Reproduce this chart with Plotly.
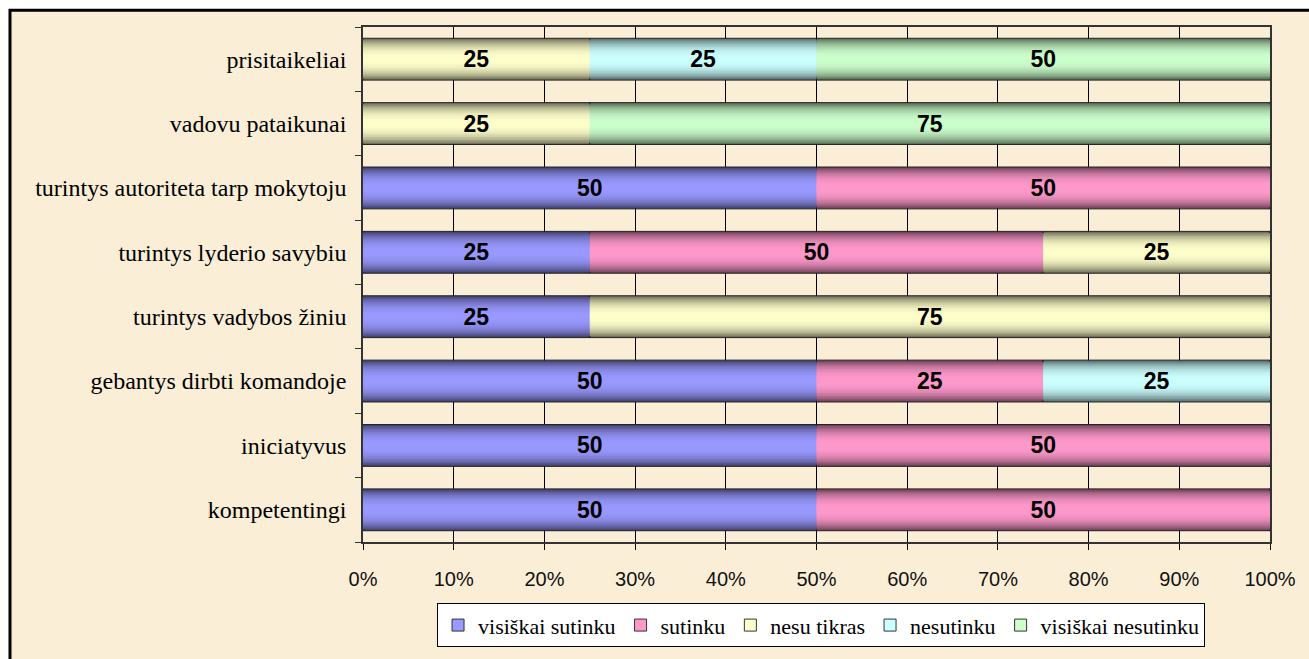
import plotly.graph_objects as go

categories = [
    "kompetentingi",
    "iniciatyvus",
    "gebantys dirbti komandoje",
    "turintys vadybos žiniu",
    "turintys lyderio savybiu",
    "turintys autoriteta tarp mokytoju",
    "vadovu pataikunai",
    "prisitaikeliai",
]
series_names = ["visiškai sutinku", "sutinku", "nesu tikras", "nesutinku", "visiškai nesutinku"]
visiskai_sutinku = [50, 50, 50, 25, 25, 50, 0, 0]
sutinku = [50, 50, 25, 0, 50, 50, 0, 0]
nesu_tikras = [0, 0, 0, 75, 25, 0, 25, 25]
nesutinku = [0, 0, 25, 0, 0, 0, 0, 25]
visiskai_nesutinku = [0, 0, 0, 0, 0, 0, 75, 50]
series_values = [visiskai_sutinku, sutinku, nesu_tikras, nesutinku, visiskai_nesutinku]
series_colors = ["#9999FF", "#FF99CC", "#FFFFCC", "#CCFFFF", "#CCFFCC"]
x_ticks = list(range(0, 101, 10))
x_tick_labels = [f"{v}%" for v in x_ticks]

PARCH = "#FBEED6"
BAR_W = 0.65
N_LAYERS = 14


def hex_rgb(h):
    h = h.lstrip("#")
    return [int(h[i:i + 2], 16) for i in (0, 2, 4)]


def shade(h, f):
    r, g, b = hex_rgb(h)
    return f"rgb({int(r * f)},{int(g * f)},{int(b * f)})"


# cumulative bases
bases = []
acc = [0] * len(categories)
for vals in series_values:
    bases.append(list(acc))
    acc = [a + v for a, v in zip(acc, vals)]

fig = go.Figure()

# gradient layers (cylinder-like shading)
for i in range(N_LAYERS):
    d = 1 - i / N_LAYERS  # relative half-width
    w = BAR_W * d
    f = 1 - 0.55 * d ** 2.5
    for s, (vals, col) in enumerate(zip(series_values, series_colors)):
        fig.add_trace(go.Bar(
            y=categories, x=vals, base=bases[s], orientation="h",
            width=w,
            marker=dict(color=shade(col, f),
                        line=dict(color="#222222", width=1 if i == 0 else 0)),
            showlegend=False, hoverinfo="skip",
        ))

# text overlay
for s, vals in enumerate(series_values):
    fig.add_trace(go.Bar(
        y=categories, x=vals, base=bases[s], orientation="h",
        width=BAR_W,
        marker=dict(color="rgba(0,0,0,0)", line=dict(width=0)),
        text=[str(v) if v else "" for v in vals],
        textposition="inside", insidetextanchor="middle",
        constraintext="none",
        textfont=dict(family="Liberation Sans", size=23, color="black", weight="bold"),
        showlegend=False, hoverinfo="skip",
    ))

# legend entries
for name, col in zip(series_names, series_colors):
    fig.add_trace(go.Bar(
        y=[None], x=[None], orientation="h", name=name,
        marker=dict(color=col, line=dict(color="#333333", width=1)),
        showlegend=True,
    ))

fig.update_layout(
    barmode="overlay",
    width=1309, height=659,
    margin=dict(l=363, r=39, t=27, b=112),
    paper_bgcolor="white",
    plot_bgcolor=PARCH,
    font=dict(family="Liberation Serif", color="black"),
    showlegend=True,
    legend=dict(
        orientation="h", x=0.505, xanchor="center", y=-0.119, yanchor="top",
        bgcolor="white", bordercolor="black", borderwidth=1,
        font=dict(family="Liberation Serif", size=22, color="black"),
        itemwidth=30, traceorder="normal",
    ),
    xaxis=dict(
        range=[0, 100], tickvals=x_ticks, ticktext=x_tick_labels,
        showgrid=True, gridcolor="black", gridwidth=1,
        ticks="outside", ticklen=6, tickcolor="black",
        showline=True, linecolor="#333333", linewidth=1.5, mirror=True,
        tickfont=dict(family="Liberation Sans", size=20, color="#111111"),
        ticklabelstandoff=12, zeroline=False, fixedrange=True,
    ),
    yaxis=dict(
        type="category", categoryorder="array", categoryarray=categories,
        tickson="boundaries", ticks="outside", ticklen=6, tickcolor="#333333",
        showgrid=False,
        showline=True, linecolor="#333333", linewidth=1.5, mirror=True,
        tickfont=dict(family="Liberation Serif", size=24, color="black"),
        ticklabelstandoff=10, fixedrange=True,
    ),
    shapes=[dict(
        type="rect", xref="paper", yref="paper", layer="below",
        x0=(10 - 363) / 907, x1=(1330 - 363) / 907,
        y0=(547 - 680) / 520, y1=1 + 17 / 520,
        fillcolor=PARCH, line=dict(color="black", width=3),
    )],
)

fig.write_html("out.html")
